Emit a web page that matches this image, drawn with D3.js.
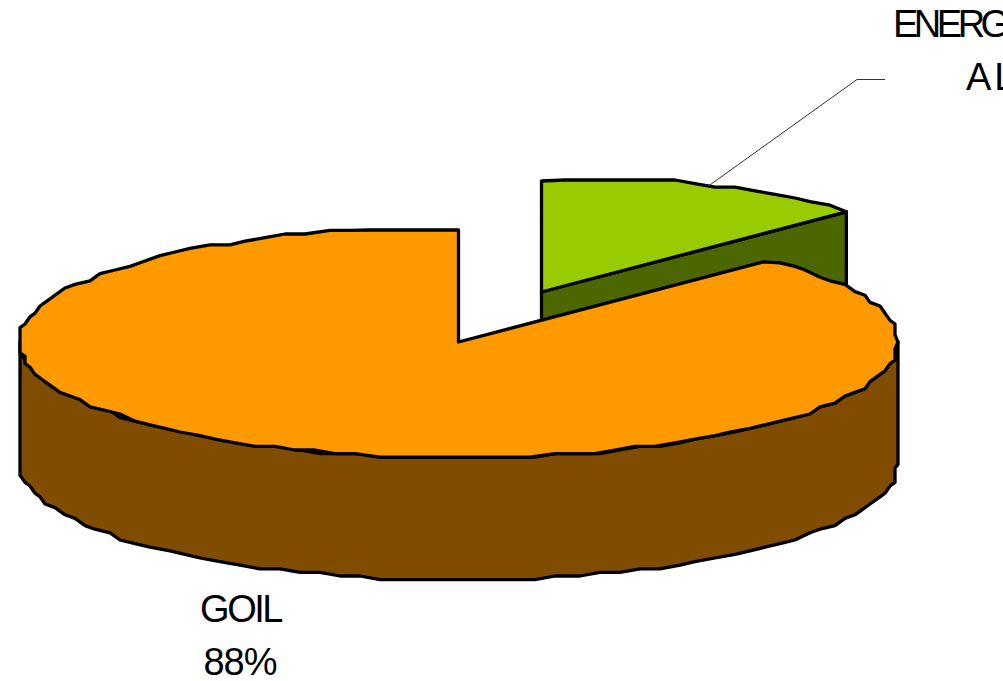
<!DOCTYPE html>
<html><head><meta charset="utf-8">
<script src="https://cdn.jsdelivr.net/npm/d3@7"></script>
<style>html,body{margin:0;padding:0;background:#fff;overflow:hidden}svg{display:block}text{font-family:"Liberation Sans",Arial,sans-serif;font-size:38px;fill:#000}</style>
</head><body><svg id="c" width="1003" height="681"></svg>
<script>
const categories = ["ENERGY", "GOIL"];
const shares = [12.2, 87.8];
const percentLabels = ["", "88%"];

const W = 1003, H = 681;
const svg = d3.select("#c").attr("viewBox", `0 0 ${W} ${H}`);
const slices = d3.pie().sort(null).value(d => d)(shares);

const rimX = d3.scaleLinear().domain([-1, 1]).range([-439.5, 439.5]);
const rimY = d3.scaleLinear().domain([-1, 1]).range([116, -116]);
const gridX = 5, gridY = 3.6, depth = 122, topClamp = 112, cornerY = 0.96;
const offsets = [{dx: 83, dy: -50}, {dx: 0, dy: 0}];
const cx = 458.5, cy = 342;
const colors = [{top: "#99CC00", side: "#4C6600"}, {top: "#FF9900", side: "#7F4C00"}];

const rim = (a, o, down = 0) => [
  cx + o.dx + rimX(Math.sin(a)),
  cy + o.dy + rimY(Math.cos(a)) + down
];
const corner = (a, o) => [
  cx + o.dx + rimX(Math.sin(a)),
  cy + o.dy + rimY(Math.cos(a) * cornerY)
];
const jag = ([x, y], o) => [
  Math.min(898, Math.max(20, Math.round(x / gridX) * gridX)),
  Math.max(cy + o.dy - topClamp, Math.round(y / gridY) * gridY)
];
const samples = (a0, a1, step = 0.05) => {
  const n = Math.max(1, Math.round(Math.abs(a1 - a0) / step));
  return d3.range(n + 1).map(i => a0 + (a1 - a0) * i / n);
};
const line = d3.line();
const draw = (pts, fill) => svg.append("path")
  .attr("d", line(pts) + "Z").attr("fill", fill).attr("stroke", "#000")
  .attr("stroke-width", 3.3).attr("stroke-linejoin", "round");

// ENERGY slice: inner wall first, then top
{
  const s = slices[0], o = offsets[0], c = colors[0];
  const apex = [cx + o.dx, cy + o.dy];
  const e = corner(s.endAngle, o);
  draw([apex, e, [e[0], e[1] + depth], [apex[0], apex[1] + depth]], c.side);
  const arc = samples(s.startAngle, s.endAngle).map(a => rim(a, o));
  const top = [apex[0], cy + o.dy - topClamp + 1];
  draw([apex, top, ...arc.slice(1, -1).map(p => jag(p, o)), e], c.top);
}
// GOIL slice: outer wall then top
{
  const s = slices[1], o = offsets[1], c = colors[1];
  const front = samples(Math.PI / 2, 3 * Math.PI / 2);
  const upper = front.map(a => jag(rim(a, o), o));
  const lower = front.map(a => jag(rim(a, o, depth), o));
  draw([...upper, ...lower.reverse()], c.side);
  const apex = [cx + o.dx, cy + o.dy];
  const st = corner(s.startAngle, o);
  const arc = samples(s.startAngle, s.endAngle).map(a => rim(a, o));
  draw([apex, st, ...arc.slice(1, -1).map(p => jag(p, o)), [apex[0], cy + o.dy - topClamp]], c.top);
}
// leader line to the ENERGY label
{
  const s = slices[0];
  const p = rim((s.startAngle + s.endAngle) / 2, offsets[0]);
  svg.append("path").attr("fill", "none").attr("stroke", "#333").attr("stroke-width", 1)
    .attr("d", line([[p[0] + 2, p[1] + 2], [857, 79.5], [885, 79.5]]));
}
// labels
svg.append("text").attr("x", 893).attr("y", 36.5).attr("letter-spacing", -4.5).text(categories[0]);
svg.append("text").attr("x", 966).attr("y", 90).attr("letter-spacing", 3).text("AL");
svg.append("text").attr("x", 240.5).attr("y", 622).attr("text-anchor", "middle").attr("letter-spacing", -2.5).text(categories[1]);
svg.append("text").attr("x", 240).attr("y", 675).attr("text-anchor", "middle").attr("letter-spacing", -1).text(percentLabels[1]);
</script></body></html>
